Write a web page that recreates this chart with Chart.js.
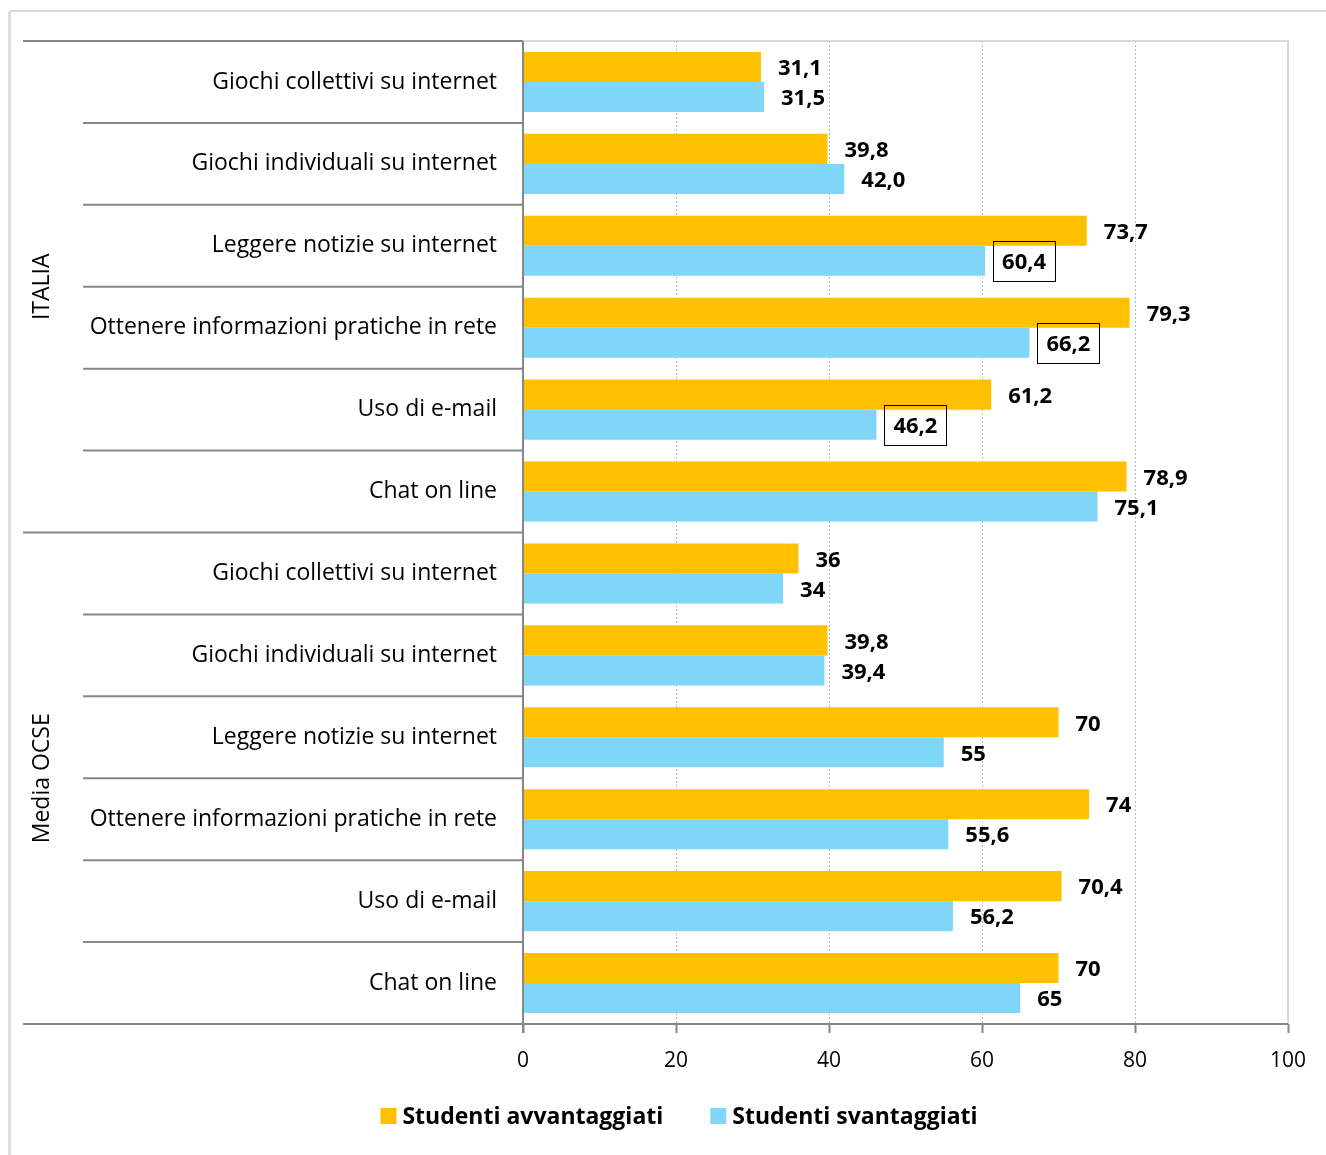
<!DOCTYPE html>
<html lang="it">
<head>
<meta charset="utf-8">
<title>Attività su internet: studenti avvantaggiati e svantaggiati</title>
<script src="https://cdn.jsdelivr.net/npm/chart.js@4.4.1/dist/chart.umd.min.js"></script>
<style>
  html, body { margin: 0; padding: 0; background: #fff; }
  #wrap { position: relative; width: 1326px; height: 1155px; }
</style>
</head>
<body>
<div id="wrap"><canvas id="chart"></canvas></div>
<script>
const FONT = "'Open Sans', Lato, sans-serif";

// Category labels (top to bottom), two groups of six
const groups = ["ITALIA", "Media OCSE"];
const activities = [
  "Giochi collettivi su internet",
  "Giochi individuali su internet",
  "Leggere notizie su internet",
  "Ottenere informazioni pratiche in rete",
  "Uso di e-mail",
  "Chat on line",
];
const categories = [...activities, ...activities];

// Series values, in the same order as categories
const avvantaggiati = [31.1, 39.8, 73.7, 79.3, 61.2, 78.9, 36, 39.8, 70, 74, 70.4, 70];
const svantaggiati = [31.5, 42.0, 60.4, 66.2, 46.2, 75.1, 34, 39.4, 55, 55.6, 56.2, 65];

// Italian data show one decimal, OCSE values as given
const decimals = [1, 1, 1, 1, 1, 1, null, null, null, null, null, null];
const boxedSvantaggiati = [2, 3, 4];

const xTicks = [0, 20, 40, 60, 80, 100];

const COLORS = {
  avv: "#ffc000",
  svan: "#7fd6f7",
  axis: "#878787",
  frame: "#d9d9d9",
  grid: "#bdbdbd",
};

const fmt = (v, i) => {
  const s = decimals[i] == null ? String(v) : v.toFixed(decimals[i]);
  return s.replace(".", ",");
};

// Draws category separators, axis lines, group labels, value labels and legend
const decorPlugin = {
  id: "decor",
  beforeDatasetsDraw(chart) {
    const { ctx, chartArea: a } = chart;
    ctx.save();
    // outer frame
    ctx.strokeStyle = COLORS.frame;
    ctx.lineWidth = 2;
    ctx.beginPath();
    ctx.moveTo(10, 11);
    ctx.lineTo(1326, 11);
    ctx.stroke();
    ctx.strokeStyle = "#e2e0d8";
    ctx.lineWidth = 3;
    ctx.beginPath();
    ctx.moveTo(9.5, 11);
    ctx.lineTo(9.5, 1155);
    ctx.stroke();
    // plot area top/right border
    ctx.strokeStyle = COLORS.frame;
    ctx.lineWidth = 2;
    ctx.beginPath();
    ctx.moveTo(a.left, a.top);
    ctx.lineTo(a.right, a.top);
    ctx.lineTo(a.right, a.bottom);
    ctx.stroke();
    ctx.restore();
  },
  afterDatasetsDraw(chart) {
    const { ctx, chartArea: a, scales } = chart;
    const y = scales.y;
    const n = categories.length;
    ctx.save();
    ctx.strokeStyle = COLORS.axis;
    ctx.lineWidth = 2;
    // category separators
    for (let k = 0; k <= n; k++) {
      let py;
      if (k === 0) py = a.top;
      else if (k === n) py = a.bottom;
      else py = (y.getPixelForValue(k - 1) + y.getPixelForValue(k)) / 2;
      const x0 = k % 6 === 0 ? 23 : 83;
      ctx.beginPath();
      ctx.moveTo(x0, py);
      ctx.lineTo(a.left, py);
      ctx.stroke();
    }
    // axes
    ctx.beginPath();
    ctx.moveTo(a.left, a.top);
    ctx.lineTo(a.left, a.bottom + 9);
    ctx.moveTo(a.left, a.bottom);
    ctx.lineTo(a.right, a.bottom);
    ctx.stroke();

    // group labels
    ctx.fillStyle = "#000";
    ctx.font = `23px ${FONT}`;
    ctx.textAlign = "center";
    ctx.textBaseline = "middle";
    groups.forEach((g, gi) => {
      const mid = (y.getPixelForValue(5) + y.getPixelForValue(6)) / 2;
      const top = gi === 0 ? a.top : mid;
      const bot = gi === 0 ? mid : a.bottom;
      ctx.save();
      ctx.translate(42, (top + bot) / 2);
      ctx.rotate(-Math.PI / 2);
      ctx.fillText(g, 0, 0);
      ctx.restore();
    });

    // value labels
    ctx.font = `bold 22px ${FONT}`;
    ctx.textAlign = "left";
    chart.data.datasets.forEach((ds, di) => {
      chart.getDatasetMeta(di).data.forEach((bar, i) => {
        const text = fmt(ds.data[i], i);
        const tx = bar.x + 17;
        ctx.fillStyle = "#000";
        ctx.fillText(text, tx, bar.y + 2);
        if (di === 1 && boxedSvantaggiati.includes(i)) {
          const w = ctx.measureText(text).width;
          ctx.strokeStyle = "#000";
          ctx.lineWidth = 1;
          ctx.strokeRect(Math.round(tx - 9) + 0.5, Math.round(bar.y - 20) + 0.5, Math.round(w + 18), 40);
        }
      });
    });

    // legend
    ctx.font = `bold 23px ${FONT}`;
    const items = chart.data.datasets.map((ds) => ({
      label: ds.label,
      color: ds.backgroundColor,
      w: 16 + 6 + ctx.measureText(ds.label).width,
    }));
    const gap = 47;
    const total = items.reduce((s, it) => s + it.w, 0) + gap * (items.length - 1);
    let lx = 679 - total / 2;
    const ly = 1116;
    items.forEach((it) => {
      ctx.fillStyle = it.color;
      ctx.fillRect(lx, ly - 8, 16, 16);
      ctx.fillStyle = "#000";
      ctx.fillText(it.label, lx + 22, ly + 1);
      lx += it.w + gap;
    });
    ctx.restore();
  },
};

new Chart(document.getElementById("chart"), {
  type: "bar",
  data: {
    labels: categories,
    datasets: [
      { label: "Studenti avvantaggiati", data: avvantaggiati, backgroundColor: COLORS.avv },
      { label: "Studenti svantaggiati", data: svantaggiati, backgroundColor: COLORS.svan },
    ],
  },
  options: {
    indexAxis: "y",
    responsive: true,
    maintainAspectRatio: false,
    animation: false,
    layout: { padding: { top: 41, right: 38, bottom: 71, left: 0 } },
    categoryPercentage: 0.733,
    barPercentage: 1,
    plugins: { legend: { display: false }, tooltip: { enabled: false } },
    scales: {
      x: {
        min: 0,
        max: 100,
        afterBuildTicks: (scale) => {
          scale.ticks = xTicks.map((v) => ({ value: v }));
        },
        afterFit: (scale) => {
          scale.height = 60;
        },
        ticks: { color: "#000", font: { family: FONT, size: 21 }, padding: 15 },
        grid: {
          color: (c) => (c.tick && c.tick.value > 0 && c.tick.value < 100 ? COLORS.grid : "rgba(0,0,0,0)"),
          lineWidth: 1,
          tickColor: COLORS.axis,
          tickLength: 9,
          tickWidth: 2,
        },
        border: { display: false, dash: [2, 2] },
      },
      y: {
        afterFit: (scale) => {
          scale.width = 523;
        },
        ticks: { color: "#000", font: { family: FONT, size: 23 }, padding: 26, autoSkip: false },
        grid: { display: false, drawTicks: false },
        border: { display: false },
      },
    },
  },
  plugins: [decorPlugin],
});
</script>
</body>
</html>
